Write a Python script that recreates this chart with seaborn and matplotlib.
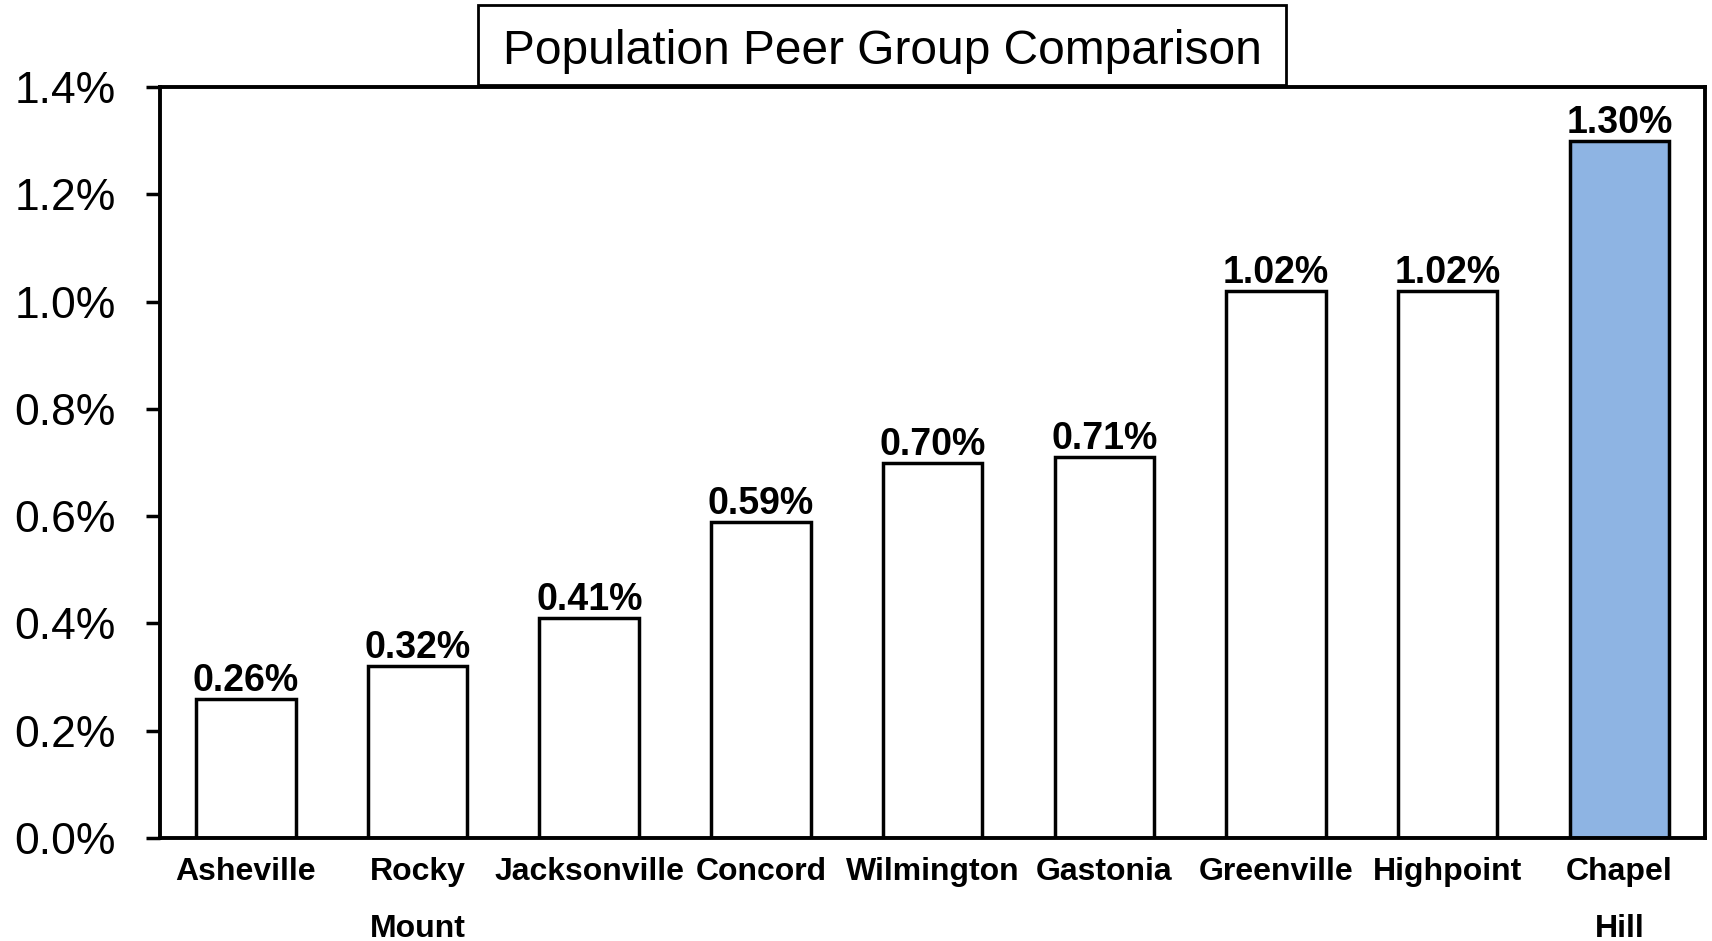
import matplotlib
matplotlib.use('Agg')
import matplotlib.pyplot as plt
import matplotlib.patches as mpatches
from matplotlib.ticker import FuncFormatter
import seaborn as sns
import pandas as pd

# chart data
cities = ['Asheville', 'Rocky\nMount', 'Jacksonville', 'Concord', 'Wilmington',
          'Gastonia', 'Greenville', 'Highpoint', 'Chapel\nHill']
growth = [0.26, 0.32, 0.41, 0.59, 0.70, 0.71, 1.02, 1.02, 1.30]
bar_colors = ['white'] * 8 + ['#8EB4E3']
y_ticks = [0.0, 0.2, 0.4, 0.6, 0.8, 1.0, 1.2, 1.4]
title = 'Population Peer Group Comparison'


def plot_peer_group(df):
    sns.set_style('white')
    plt.rcParams['font.family'] = ['Liberation Sans', 'DejaVu Sans']
    plt.rcParams['text.color'] = 'black'
    plt.rcParams['xtick.color'] = 'black'
    plt.rcParams['ytick.color'] = 'black'

    fig = plt.figure(figsize=(17.12, 9.41), dpi=100)
    ax = fig.add_axes([0.0935, 0.1095, 0.9025, 0.798])

    sns.barplot(data=df, x='city', y='growth', hue='city', palette=bar_colors,
                legend=False, width=0.58, edgecolor='black', linewidth=2.5,
                saturation=1, ax=ax)

    for cont in ax.containers:
        ax.bar_label(cont, labels=[f'{v:.2f}%' for v in cont.datavalues],
                     fontsize=27, fontweight='bold', padding=0, color='black')

    ax.set_ylim(0, 1.4)
    ax.set_xlim(-0.5, len(cities) - 0.5)
    ax.set_yticks(y_ticks)
    ax.yaxis.set_major_formatter(FuncFormatter(lambda v, p: f'{v:.1f}%'))
    ax.tick_params(axis='y', labelsize=32, length=10, width=2.5, pad=22, left=True,
                   colors='black')
    ax.tick_params(axis='x', labelsize=23, length=0, pad=14, colors='black')
    for t in ax.get_xticklabels():
        t.set_fontweight('bold')
        t.set_linespacing(2.15)
        t.set_verticalalignment('top')
    ax.set_xlabel(None)
    ax.set_ylabel(None)

    for s in ax.spines.values():
        s.set_visible(True)
        s.set_color('black')
        s.set_linewidth(2.8)

    # title box
    fig.patches.append(mpatches.Rectangle((478 / 1712, 1 - 85 / 941), 808 / 1712, 80 / 941,
                                          transform=fig.transFigure, facecolor='white',
                                          edgecolor='black', linewidth=2, zorder=5))
    fig.text(882 / 1712, 1 - 51 / 941, title, ha='center', va='center', fontsize=34.5,
             color='black', zorder=6)

    fig.savefig('out.png', dpi=100)


if __name__ == '__main__':
    df = pd.DataFrame({'city': cities, 'growth': growth})
    plot_peer_group(df)
